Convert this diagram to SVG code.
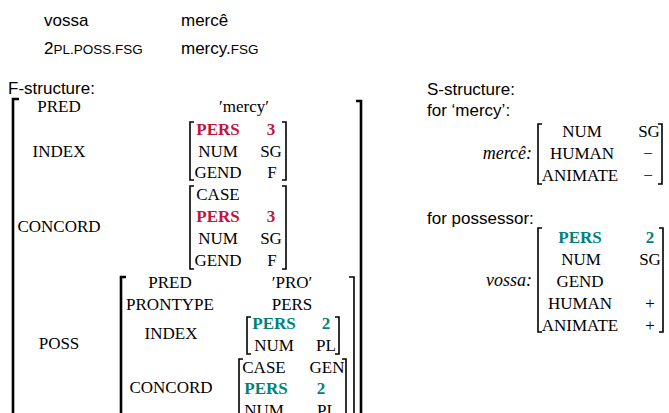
<svg xmlns="http://www.w3.org/2000/svg" width="669" height="413" viewBox="0 0 669 413">
<style>
.s{font-family:"Liberation Sans",Arial,sans-serif;font-size:17px;fill:#000}
.sc{font-size:13.5px}
.f{font-family:"Liberation Serif","Times New Roman",serif;font-size:17px;fill:#000;text-anchor:middle}
.it{font-style:italic;text-anchor:end;font-size:18px}
.r{fill:#C0143C;font-weight:bold}
.t{fill:#00827A;font-weight:bold}
.b{fill:none;stroke:#000;stroke-width:1.6}
.B{fill:none;stroke:#000;stroke-width:2.6}
</style>
<rect width="669" height="413" fill="#fff"/>
<g id="gloss">
<text class="s" x="44" y="26">vossa</text>
<text class="s" x="181" y="26">mercê</text>
<text class="s" x="44" y="54">2<tspan class="sc">PL.POSS.FSG</tspan></text>
<text class="s" x="181" y="54">mercy.<tspan class="sc">FSG</tspan></text>
</g>
<g id="fstructure">
<text class="s" x="8" y="94">F-structure:</text>
<path class="B" d="M19,99 H13 V420"/>
<path class="B" d="M356,101 H361 V420"/>
<text class="f" x="59" y="112">PRED</text>
<text class="f" x="244" y="112">′mercy′</text>
<text class="f" x="59" y="157">INDEX</text>
<path class="b" d="M194,122 H190 V180 H194"/>
<path class="b" d="M282,122 H286 V180 H282"/>
<text class="f r" x="218" y="135">PERS</text><text class="f r" x="271" y="135">3</text>
<text class="f" x="218" y="157">NUM</text><text class="f" x="271" y="157">SG</text>
<text class="f" x="218" y="178">GEND</text><text class="f" x="272" y="178">F</text>
<text class="f" x="59" y="232">CONCORD</text>
<path class="b" d="M194,186 H190 V269 H194"/>
<path class="b" d="M282,186 H286 V269 H282"/>
<text class="f" x="218" y="200">CASE</text>
<text class="f r" x="218" y="222">PERS</text><text class="f r" x="271" y="222">3</text>
<text class="f" x="218" y="244">NUM</text><text class="f" x="271" y="244">SG</text>
<text class="f" x="218" y="266">GEND</text><text class="f" x="272" y="266">F</text>
<text class="f" x="59" y="349">POSS</text>
<path class="B" d="M126,277 H121 V420"/>
<path class="b" d="M349,277 H354 V420"/>
<text class="f" x="170" y="288">PRED</text>
<text class="f" x="292" y="288">′PRO′</text>
<text class="f" x="170" y="310">PRONTYPE</text>
<text class="f" x="292" y="310">PERS</text>
<text class="f" x="171" y="339">INDEX</text>
<path class="b" d="M251,317 H247 V354 H251"/>
<path class="b" d="M335,317 H339 V354 H335"/>
<text class="f t" x="274" y="329">PERS</text><text class="f t" x="326" y="329">2</text>
<text class="f" x="274" y="351">NUM</text><text class="f" x="326" y="351">PL</text>
<text class="f" x="171" y="393">CONCORD</text>
<path class="b" d="M243,359 H239 V420"/>
<path class="b" d="M342,359 H346 V420"/>
<text class="f" x="264" y="373">CASE</text><text class="f" x="327" y="373">GEN</text>
<text class="f t" x="266" y="394">PERS</text><text class="f t" x="321" y="394">2</text>
<text class="f" x="264" y="416">NUM</text><text class="f" x="327" y="416">PL</text>
</g>
<g id="sstructure">
<text class="s" x="427" y="95">S-structure:</text>
<text class="s" x="427" y="116">for ‘mercy’:</text>
<text class="f it" x="532" y="159">mercê:</text>
<path class="b" d="M542,124 H538 V184 H542"/>
<path class="b" d="M658,124 H662 V184 H658"/>
<text class="f" x="582" y="137">NUM</text><text class="f" x="649" y="137">SG</text>
<text class="f" x="582" y="159">HUMAN</text><text class="f" x="648" y="159">−</text>
<text class="f" x="580" y="181">ANIMATE</text><text class="f" x="648" y="181">−</text>
<text class="s" x="427" y="224">for possessor:</text>
<text class="f it" x="532" y="286">vossa:</text>
<path class="b" d="M542,228 H538 V332 H542"/>
<path class="b" d="M659,228 H663 V332 H659"/>
<text class="f t" x="580" y="243">PERS</text><text class="f t" x="650" y="243">2</text>
<text class="f" x="581" y="265">NUM</text><text class="f" x="650" y="265">SG</text>
<text class="f" x="580" y="287">GEND</text>
<text class="f" x="580" y="309">HUMAN</text><text class="f" x="650" y="309">+</text>
<text class="f" x="580" y="331">ANIMATE</text><text class="f" x="650" y="331">+</text>
</g>
</svg>
